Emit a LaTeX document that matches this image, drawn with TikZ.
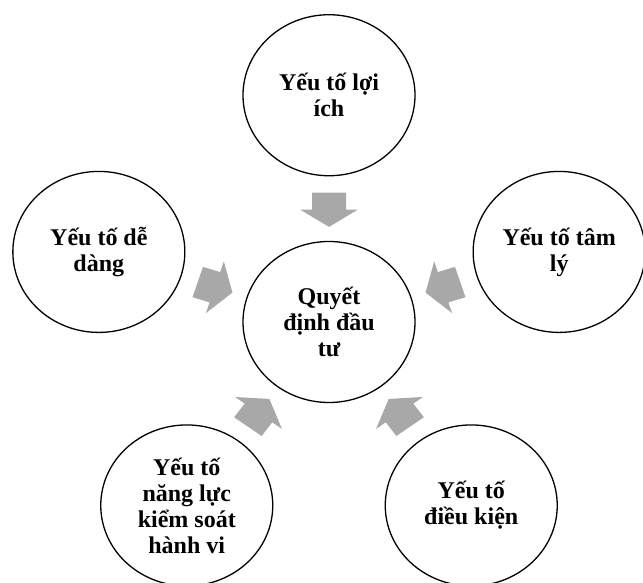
\documentclass[tikz,border=0pt]{standalone}
\usepackage{fontspec}
\setmainfont{Liberation Serif}
\usetikzlibrary{shapes.geometric,calc}
\definecolor{arrowgray}{RGB}{168,168,168}
\begin{document}
\begin{tikzpicture}[x=1pt,y=0.937pt,
  bubble/.style={ellipse, draw=black, line width=1.3pt, minimum width=172pt, minimum height=161pt,
    inner sep=0pt, align=center, fill=white, font=\fontsize{24}{26}\selectfont\bfseries},
  blockarrow/.style={fill=arrowgray, draw=none}]
\useasboundingbox (0pt,0pt) rectangle (643pt,583pt);
\node[bubble] (c) at (329pt,261pt) {Quyết\\định đầu\\tư};
\node[bubble] (top) at ($(c)+(90:242)$) {Yếu tố lợi\\ích};
\node[bubble] (left) at ($(c)+(162:242)$) {Yếu tố dễ\\dàng};
\node[bubble] (right) at ($(c)+(18:242)$) {Yếu tố tâm\\lý};
\node[bubble] (bl) at ($(c)+(234:242)$) {Yếu tố\\năng lực\\kiểm soát\\hành vi};
\node[bubble] (br) at ($(c)+(306:242)$) {Yếu tố\\điều kiện};
\foreach \a [evaluate=\a as \p using \a+90, evaluate=\a as \q using \a-90] in {90,162,18,234,306}{
  \fill[blockarrow] ($(c)+(\a:101.5)$)
    -- ($(c)+(\a:120)+(\p:29)$) -- ($(c)+(\a:120)+(\p:17)$)
    -- ($(c)+(\a:138)+(\p:17)$) -- ($(c)+(\a:138)+(\q:17)$)
    -- ($(c)+(\a:120)+(\q:17)$) -- ($(c)+(\a:120)+(\q:29)$) -- cycle;
}
\end{tikzpicture}
\end{document}
